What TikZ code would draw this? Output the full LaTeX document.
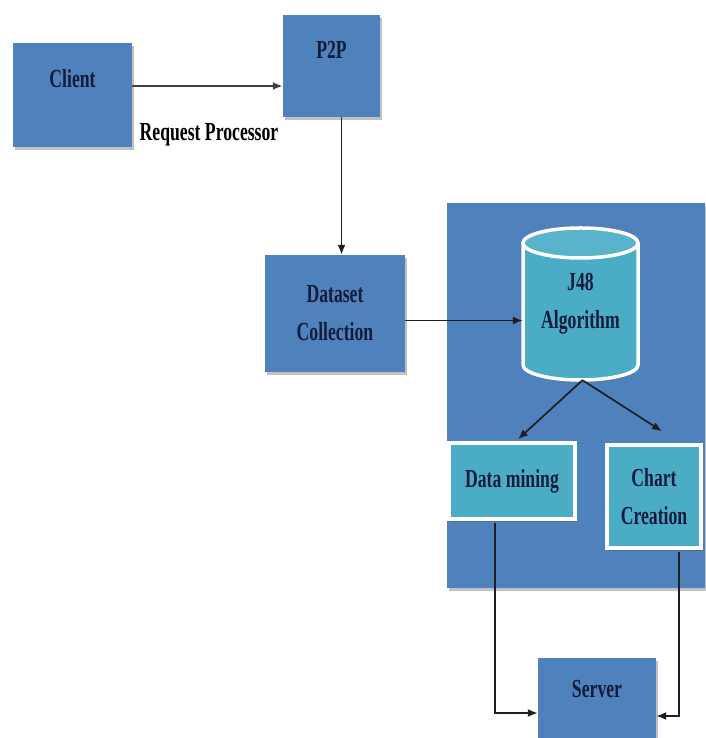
\documentclass[tikz,border=0pt]{standalone}
\usepackage{fontspec}
\setmainfont{Liberation Serif}[FakeStretch=0.68]
\usetikzlibrary{arrows.meta,shadows}
\definecolor{boxblue}{RGB}{79,129,189}
\definecolor{aqua}{RGB}{75,172,198}
\definecolor{navy}{RGB}{18,28,58}
\definecolor{linec}{RGB}{30,30,35}
\begin{document}
\begin{tikzpicture}[x=1pt,y=1pt,
  shad/.style={drop shadow={shadow xshift=2pt,shadow yshift=-3pt,opacity=0.35,fill=black!70}},
  box/.style={rectangle,fill=boxblue,draw=none,inner sep=0pt,shad},
  abox/.style={rectangle,fill=aqua,draw=white,line width=3.5pt,inner sep=0pt,shad},
  txt/.style={text=navy,font=\fontsize{26}{38}\selectfont\bfseries,align=center,inner sep=0pt},
  arr/.style={draw=linec,line width=1.7pt,-{Latex[length=10pt,width=8pt]}},
]
\useasboundingbox (0,0) rectangle (705,738);
% panel
\fill[boxblue,shad] (447,150) rectangle (705,535);
% boxes
\node[box,minimum width=119pt,minimum height=104pt,
  label={[txt,name=clientT,yshift=16pt]center:Client}] (client) at (72.5,643) {};
\node[box,minimum width=97pt,minimum height=102pt,
  label={[txt,name=p2pT,yshift=16pt]center:P2P}] (p2p) at (331.5,672) {};
\node[txt,text=black] (req) at (209,603) {Request Processor};
\node[box,minimum width=140pt,minimum height=117pt,txt,text=navy] (dataset) at (335,424.5) {Dataset\\Collection};
% cylinder
\fill[aqua] (523,495) -- (523,373) arc[start angle=180,end angle=360,x radius=57.5pt,y radius=15pt]
  -- (638,495) arc[start angle=0,end angle=180,x radius=57.5pt,y radius=15pt] -- cycle;
\draw[white,line width=3.5pt] (523,495) -- (523,373) arc[start angle=180,end angle=360,x radius=57.5pt,y radius=15pt] -- (638,495);
\draw[white,line width=3.5pt,fill=aqua!92!white] (580.5,495) ellipse[x radius=57.5pt,y radius=15pt];
\node[txt,minimum width=115pt,minimum height=152pt] (j48) at (580.5,434) {J48\\Algorithm};
\node[abox,minimum width=126pt,minimum height=76pt,txt,text=navy] (dm) at (512,257) {Data mining};
\node[abox,minimum width=94pt,minimum height=103pt,txt,text=navy] (cc) at (654,241.5) {Chart\\Creation};
\node[box,minimum width=118pt,minimum height=80pt,
  label={[txt,name=serverT,yshift=9pt]center:Server}] (server) at (597,40) {};
% connectors
\draw[arr,line width=2.4pt,draw=black!75] ([yshift=9pt]client.east) -- ([yshift=9pt]client.east -| p2p.west);
\draw[arr] ([xshift=10pt]p2p.south) -- ([xshift=10pt]p2p.south |- dataset.north);
\draw[arr] ([yshift=-7pt]dataset.east) -- ([yshift=-7pt]dataset.east -| j48.west);
\draw[arr] ([xshift=2pt]j48.south) -- ([xshift=6pt,yshift=2pt]dm.north);
\draw[arr] ([xshift=2pt]j48.south) -- ([xshift=8pt,yshift=12pt]cc.north);
\draw[arr] ([xshift=-17pt,yshift=-2pt]dm.south) |- ([yshift=-15pt]server.west);
\draw[arr] ([xshift=25pt,yshift=-2pt]cc.south) |- ([yshift=-18pt]server.east);
\end{tikzpicture}
\end{document}
